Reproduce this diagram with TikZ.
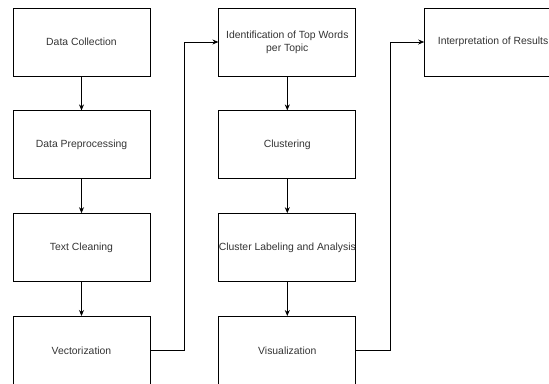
\documentclass[tikz,border=0pt]{standalone}
\usepackage{fontspec}
\setmainfont{Liberation Sans}
\usetikzlibrary{positioning, arrows.meta}

\begin{document}
\begin{tikzpicture}[
    x=1pt, y=1pt,
    box/.style={draw, rectangle, line width=0.8pt, minimum width=137pt, minimum height=68pt, inner sep=0pt, align=center, text=black!80, font=\fontsize{10.4pt}{13pt}\selectfont},
    arr/.style={-{Stealth[length=6pt, width=5pt]}, line width=0.8pt}
]
    \useasboundingbox (0,0) rectangle (549,-383);

    % first column
    \node[box] (collect) at (81.5,-42) {Data Collection};
    \node[box] (prep) [below=34pt of collect] {Data Preprocessing};
    \node[box] (clean) [below=34pt of prep] {Text Cleaning};
    \node[box] (vect) [below=34pt of clean] {Vectorization};

    % second column
    \node[box] (topwords) [right=68pt of collect] {Identification of Top Words\\per Topic};
    \node[box] (cluster) [below=34pt of topwords] {Clustering};
    \node[box] (label) [below=34pt of cluster] {Cluster Labeling and Analysis};
    \node[box] (visual) [below=34pt of label] {Visualization};

    % third column
    \node[box] (interp) [right=68pt of topwords] {Interpretation of Results};

    \draw[arr] (collect) -- (prep);
    \draw[arr] (prep) -- (clean);
    \draw[arr] (clean) -- (vect);
    \draw[arr] (topwords) -- (cluster);
    \draw[arr] (cluster) -- (label);
    \draw[arr] (label) -- (visual);

    \draw[arr] (vect.east) -- ++(34pt,0) |- (topwords.west);
    \draw[arr] (visual.east) -- ++(34pt,0) |- (interp.west);
\end{tikzpicture}
\end{document}
